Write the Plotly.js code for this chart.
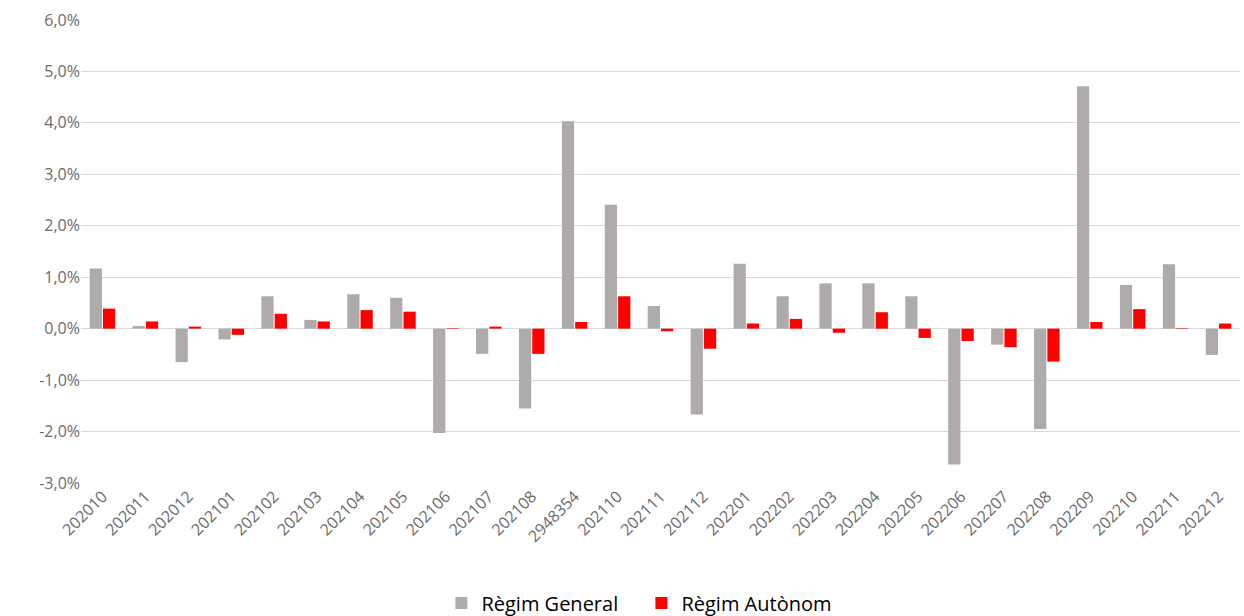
<!DOCTYPE html>
<html>
<head>
<meta charset="utf-8">
<script src="https://cdn.plot.ly/plotly-3.0.1.min.js"></script>
<style>
html, body { margin: 0; padding: 0; background: #fff; }
#chart { width: 1244px; height: 616px; }
</style>
</head>
<body>
<div id="chart"></div>
<script>
const categories = ["202010","202011","202012","202101","202102","202103","202104","202105","202106","202107","202108","2948354","202110","202111","202112","202201","202202","202203","202204","202205","202206","202207","202208","202209","202210","202211","202212"];
const regimGeneral = [1.17,0.05,-0.65,-0.21,0.63,0.17,0.67,0.60,-2.03,-0.49,-1.55,4.03,2.41,0.44,-1.67,1.26,0.63,0.88,0.88,0.63,-2.64,-0.31,-1.95,4.71,0.85,1.25,-0.51];
const regimAutonom = [0.39,0.14,0.04,-0.12,0.29,0.14,0.36,0.33,0.01,0.04,-0.49,0.13,0.63,-0.05,-0.39,0.10,0.19,-0.08,0.32,-0.18,-0.24,-0.36,-0.64,0.13,0.38,0.01,0.10];
const yTicks = [-3,-2,-1,0,1,2,3,4,5,6];
const yTickText = yTicks.map(v => v.toFixed(1).replace('.', ',') + '%');

const data = [
  {type:'bar', name:'Règim General', x:categories, y:regimGeneral,
   marker:{color:'#AFABAB'}, hoverinfo:'x+y'},
  {type:'bar', name:'Règim Autònom', x:categories, y:regimAutonom,
   marker:{color:'#FF0000'}, hoverinfo:'x+y'}
];

const layout = {
  width:1244, height:616,
  margin:{l:81, r:4, t:20, b:133},
  paper_bgcolor:'#fff', plot_bgcolor:'#fff',
  font:{family:'"Open Sans", "Noto Sans", sans-serif', color:'#595959', size:16},
  barmode:'group', bargap:0.38, bargroupgap:0.08,
  xaxis:{type:'category', tickangle:-45, showgrid:false, zeroline:false, automargin:false,
         showline:false, ticks:'', tickfont:{size:16, color:'#6B6B6B'}},
  yaxis:{range:[-3,6], tickmode:'array', tickvals:yTicks, ticktext:yTickText, automargin:false,
         showgrid:true, gridcolor:'#D9D9D9', gridwidth:1,
         zeroline:true, zerolinecolor:'#D9D9D9', zerolinewidth:1,
         showline:false, ticks:'', ticklen:0, tickfont:{size:16, color:'#6B6B6B'}},
  legend:{orientation:'h', xref:'container', yref:'container', x:0.5156, xanchor:'center',
          y:0.021, yanchor:'middle', entrywidth:155,
          font:{size:20, color:'#000'}, itemwidth:30},
  showlegend:true
};

Plotly.newPlot('chart', data, layout, {displayModeBar:false, staticPlot:true});
</script>
</body>
</html>
